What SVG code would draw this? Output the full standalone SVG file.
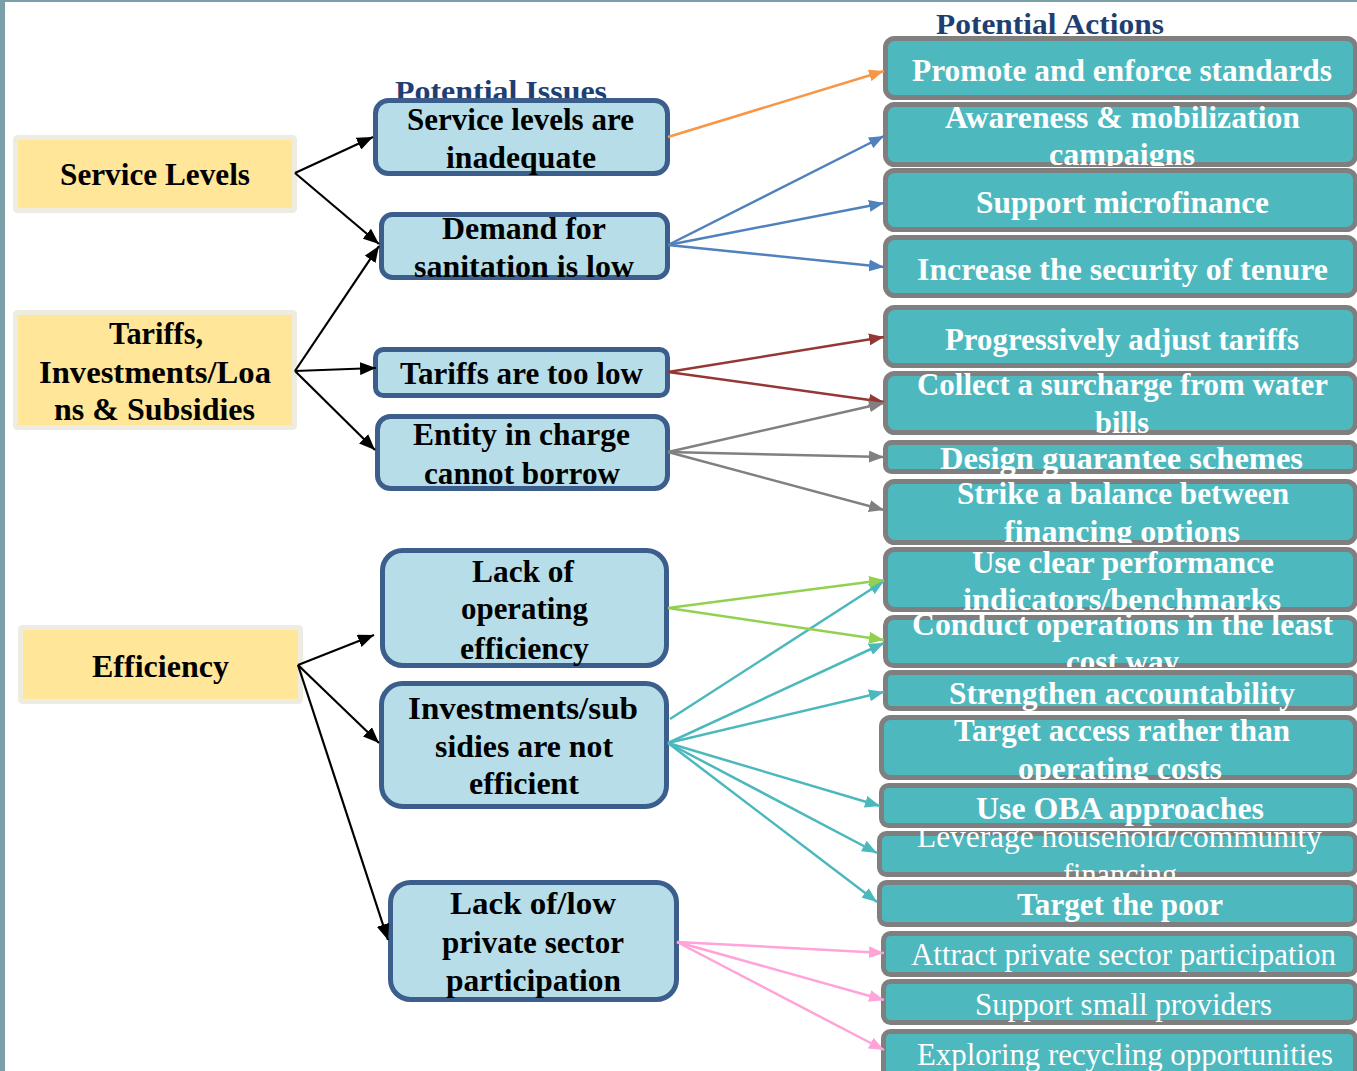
<svg xmlns="http://www.w3.org/2000/svg" width="1357" height="1071" viewBox="0 0 1357 1071">
<style>
.t{font-family:"Liberation Serif","DejaVu Serif",serif;font-size:31px;font-weight:bold;text-anchor:middle;transform:translateY(1.5px)}
.k{fill:#000}
.w{fill:#fff}
.r{font-weight:normal}
.hd{font-family:"Liberation Serif","DejaVu Serif",serif;font-size:30px;font-weight:bold;fill:#1F3F73;text-anchor:middle}
.yb{fill:#FFE699;stroke:#EEECE1;stroke-width:5}
.bb{fill:#B7DEE8;stroke:#3B5E8C;stroke-width:5}
.ab{fill:#4DB8BE;stroke:#7F7F7F;stroke-width:5}
.c{fill:none;stroke-width:2.5}
</style>
<defs>
<marker id="mk" markerUnits="userSpaceOnUse" markerWidth="16" markerHeight="13" refX="16" refY="6.5" orient="auto"><path d="M0,0L16,6.5L0,13z" fill="#000"/></marker>
<marker id="mo" markerUnits="userSpaceOnUse" markerWidth="15" markerHeight="12" refX="15" refY="6" orient="auto"><path d="M0,0L15,6L0,12z" fill="#F79646"/></marker>
<marker id="mb" markerUnits="userSpaceOnUse" markerWidth="15" markerHeight="12" refX="15" refY="6" orient="auto"><path d="M0,0L15,6L0,12z" fill="#4F81BD"/></marker>
<marker id="mr" markerUnits="userSpaceOnUse" markerWidth="15" markerHeight="12" refX="15" refY="6" orient="auto"><path d="M0,0L15,6L0,12z" fill="#953735"/></marker>
<marker id="mg" markerUnits="userSpaceOnUse" markerWidth="15" markerHeight="12" refX="15" refY="6" orient="auto"><path d="M0,0L15,6L0,12z" fill="#808080"/></marker>
<marker id="ml" markerUnits="userSpaceOnUse" markerWidth="15" markerHeight="12" refX="15" refY="6" orient="auto"><path d="M0,0L15,6L0,12z" fill="#92D050"/></marker>
<marker id="mt" markerUnits="userSpaceOnUse" markerWidth="15" markerHeight="12" refX="15" refY="6" orient="auto"><path d="M0,0L15,6L0,12z" fill="#4BB8BE"/></marker>
<marker id="mp" markerUnits="userSpaceOnUse" markerWidth="15" markerHeight="12" refX="15" refY="6" orient="auto"><path d="M0,0L15,6L0,12z" fill="#FFA3D8"/></marker>
<clipPath id="c1"><rect x="883" y="36" width="474" height="64"/></clipPath>
<clipPath id="c2"><rect x="883" y="102" width="474" height="64"/></clipPath>
<clipPath id="c3"><rect x="883" y="168" width="474" height="64"/></clipPath>
<clipPath id="c4"><rect x="883" y="235" width="474" height="63"/></clipPath>
<clipPath id="c5"><rect x="883" y="305" width="474" height="63"/></clipPath>
<clipPath id="c6"><rect x="883" y="371" width="474" height="64"/></clipPath>
<clipPath id="c7"><rect x="883" y="440" width="474" height="34"/></clipPath>
<clipPath id="c8"><rect x="883" y="479" width="474" height="64"/></clipPath>
<clipPath id="c9"><rect x="883" y="547" width="474" height="65"/></clipPath>
<clipPath id="c10"><rect x="883" y="615" width="474" height="52"/></clipPath>
<clipPath id="c11"><rect x="883" y="670" width="474" height="41"/></clipPath>
<clipPath id="c12"><rect x="879" y="715" width="478" height="65"/></clipPath>
<clipPath id="c13"><rect x="879" y="783" width="478" height="45"/></clipPath>
<clipPath id="c14"><rect x="877" y="831" width="480" height="46"/></clipPath>
<clipPath id="c15"><rect x="877" y="880" width="480" height="47"/></clipPath>
<clipPath id="c16"><rect x="881" y="931" width="476" height="46"/></clipPath>
<clipPath id="c17"><rect x="881" y="979" width="476" height="46"/></clipPath>
<clipPath id="c18"><rect x="881" y="1029" width="476" height="46"/></clipPath>
</defs>
<rect x="0" y="0" width="1357" height="1071" fill="#fff"/>
<rect x="0" y="0" width="1357" height="2" fill="#7B9FA9"/>
<rect x="0" y="0" width="5" height="1071" fill="#7B9FA9"/>

<g id="headers">
<text class="hd" x="501" y="101" textLength="212" lengthAdjust="spacingAndGlyphs">Potential Issues</text>
<text class="hd" x="1050" y="34" textLength="228" lengthAdjust="spacingAndGlyphs">Potential Actions</text>
</g>

<g id="cat-service">
<rect class="yb" x="15.5" y="137.5" width="279" height="73" rx="2"/>
<text class="t k" x="155" y="183" textLength="190" lengthAdjust="spacingAndGlyphs">Service Levels</text>
</g>
<g id="cat-tariffs">
<rect class="yb" x="15.5" y="312.5" width="279" height="115" rx="2"/>
<text class="t k" x="156" y="342" textLength="94" lengthAdjust="spacingAndGlyphs">Tariffs,</text>
<text class="t k" x="155" y="381" textLength="232" lengthAdjust="spacingAndGlyphs">Investments/Loa</text>
<text class="t k" x="154.5" y="418" textLength="201" lengthAdjust="spacingAndGlyphs">ns &amp; Subsidies</text>
</g>
<g id="cat-efficiency">
<rect class="yb" x="20.5" y="627.5" width="280" height="74" rx="2"/>
<text class="t k" x="160.5" y="675" textLength="137" lengthAdjust="spacingAndGlyphs">Efficiency</text>
</g>

<g id="issue-service">
<rect class="bb" x="375.5" y="100.5" width="292" height="73" rx="13"/>
<text class="t k" x="520.5" y="128" textLength="227" lengthAdjust="spacingAndGlyphs">Service levels are</text>
<text class="t k" x="521" y="166" textLength="150" lengthAdjust="spacingAndGlyphs">inadequate</text>
</g>
<g id="issue-demand">
<rect class="bb" x="381.5" y="214.5" width="286" height="63" rx="11"/>
<text class="t k" x="524" y="237" textLength="164" lengthAdjust="spacingAndGlyphs">Demand for</text>
<text class="t k" x="524" y="275" textLength="220" lengthAdjust="spacingAndGlyphs">sanitation is low</text>
</g>
<g id="issue-tariffs">
<rect class="bb" x="375.5" y="349.5" width="292" height="46" rx="8"/>
<text class="t k" x="521.5" y="382" textLength="243" lengthAdjust="spacingAndGlyphs">Tariffs are too low</text>
</g>
<g id="issue-entity">
<rect class="bb" x="377.5" y="416.5" width="290" height="72" rx="13"/>
<text class="t k" x="521.5" y="443" textLength="217" lengthAdjust="spacingAndGlyphs">Entity in charge</text>
<text class="t k" x="522" y="482" textLength="196" lengthAdjust="spacingAndGlyphs">cannot borrow</text>
</g>
<g id="issue-operating">
<rect class="bb" x="382.5" y="550.5" width="284" height="115" rx="20"/>
<text class="t k" x="523" y="580" textLength="102" lengthAdjust="spacingAndGlyphs">Lack of</text>
<text class="t k" x="524.5" y="617" textLength="127" lengthAdjust="spacingAndGlyphs">operating</text>
<text class="t k" x="524.5" y="657" textLength="129" lengthAdjust="spacingAndGlyphs">efficiency</text>
</g>
<g id="issue-investments">
<rect class="bb" x="381.5" y="683.5" width="285" height="123" rx="21"/>
<text class="t k" x="523" y="717" textLength="230" lengthAdjust="spacingAndGlyphs">Investments/sub</text>
<text class="t k" x="524" y="755" textLength="178" lengthAdjust="spacingAndGlyphs">sidies are not</text>
<text class="t k" x="524" y="792" textLength="110" lengthAdjust="spacingAndGlyphs">efficient</text>
</g>
<g id="issue-private">
<rect class="bb" x="390.5" y="882.5" width="286" height="117" rx="20"/>
<text class="t k" x="533" y="912" textLength="166" lengthAdjust="spacingAndGlyphs">Lack of/low</text>
<text class="t k" x="533" y="951" textLength="182" lengthAdjust="spacingAndGlyphs">private sector</text>
<text class="t k" x="533.5" y="989" textLength="175" lengthAdjust="spacingAndGlyphs">participation</text>
</g>

<g id="action-1"><rect class="ab" x="885.5" y="38.5" width="470" height="59" rx="9"/>
<g clip-path="url(#c1)"><text class="t w" x="1122" y="79" textLength="420" lengthAdjust="spacingAndGlyphs">Promote and enforce standards</text></g></g>
<g id="action-2"><rect class="ab" x="885.5" y="104.5" width="470" height="60" rx="9"/>
<g clip-path="url(#c2)"><text class="t w" x="1122.5" y="126" textLength="355" lengthAdjust="spacingAndGlyphs">Awareness &amp; mobilization</text>
<text class="t w" x="1122" y="163" textLength="146" lengthAdjust="spacingAndGlyphs">campaigns</text></g></g>
<g id="action-3"><rect class="ab" x="885.5" y="170.5" width="470" height="59" rx="9"/>
<g clip-path="url(#c3)"><text class="t w" x="1122.5" y="211" textLength="293" lengthAdjust="spacingAndGlyphs">Support microfinance</text></g></g>
<g id="action-4"><rect class="ab" x="885.5" y="237.5" width="470" height="58" rx="9"/>
<g clip-path="url(#c4)"><text class="t w" x="1122.5" y="278" textLength="411" lengthAdjust="spacingAndGlyphs">Increase the security of tenure</text></g></g>
<g id="action-5"><rect class="ab" x="885.5" y="307.5" width="470" height="58" rx="9"/>
<g clip-path="url(#c5)"><text class="t w" x="1122" y="348" textLength="354" lengthAdjust="spacingAndGlyphs">Progressively adjust tariffs</text></g></g>
<g id="action-6"><rect class="ab" x="885.5" y="373.5" width="470" height="59" rx="9"/>
<g clip-path="url(#c6)"><text class="t w" x="1122.5" y="393" textLength="411" lengthAdjust="spacingAndGlyphs">Collect a surcharge from water</text>
<text class="t w" x="1122" y="431" textLength="54" lengthAdjust="spacingAndGlyphs">bills</text></g></g>
<g id="action-7"><rect class="ab" x="885.5" y="442.5" width="470" height="29" rx="6"/>
<g clip-path="url(#c7)"><text class="t w" x="1121.5" y="467" textLength="363" lengthAdjust="spacingAndGlyphs">Design guarantee schemes</text></g></g>
<g id="action-8"><rect class="ab" x="885.5" y="481.5" width="470" height="61" rx="9"/>
<g clip-path="url(#c8)"><text class="t w" x="1123" y="502" textLength="332" lengthAdjust="spacingAndGlyphs">Strike a balance between</text>
<text class="t w" x="1122" y="540" textLength="236" lengthAdjust="spacingAndGlyphs">financing options</text></g></g>
<g id="action-9"><rect class="ab" x="885.5" y="549.5" width="470" height="60" rx="9"/>
<g clip-path="url(#c9)"><text class="t w" x="1123" y="571" textLength="302" lengthAdjust="spacingAndGlyphs">Use clear performance</text>
<text class="t w" x="1122" y="608" textLength="318" lengthAdjust="spacingAndGlyphs">indicators/benchmarks</text></g></g>
<g id="action-10"><rect class="ab" x="885.5" y="617.5" width="470" height="48" rx="8"/>
<g clip-path="url(#c10)"><text class="t w" x="1122.5" y="633" textLength="421" lengthAdjust="spacingAndGlyphs">Conduct operations in the least</text>
<text class="t w" x="1122.5" y="670" textLength="113" lengthAdjust="spacingAndGlyphs">cost way</text></g></g>
<g id="action-11"><rect class="ab" x="885.5" y="672.5" width="470" height="36" rx="6"/>
<g clip-path="url(#c11)"><text class="t w" x="1122" y="702" textLength="346" lengthAdjust="spacingAndGlyphs">Strengthen accountability</text></g></g>
<g id="action-12"><rect class="ab" x="881.5" y="717.5" width="474" height="60" rx="9"/>
<g clip-path="url(#c12)"><text class="t w" x="1122" y="739" textLength="336" lengthAdjust="spacingAndGlyphs">Target access rather than</text>
<text class="t w" x="1120" y="777" textLength="204" lengthAdjust="spacingAndGlyphs">operating costs</text></g></g>
<g id="action-13"><rect class="ab" x="881.5" y="785.5" width="474" height="40" rx="7"/>
<g clip-path="url(#c13)"><text class="t w" x="1120" y="817" textLength="288" lengthAdjust="spacingAndGlyphs">Use OBA approaches</text></g></g>
<g id="action-14"><rect class="ab" x="879.5" y="833.5" width="476" height="41" rx="7"/>
<g clip-path="url(#c14)"><text class="t w r" x="1119.5" y="845" textLength="405" lengthAdjust="spacingAndGlyphs">Leverage household/community</text>
<text class="t w r" x="1120" y="883" textLength="114" lengthAdjust="spacingAndGlyphs">financing</text></g></g>
<g id="action-15"><rect class="ab" x="879.5" y="882.5" width="476" height="42" rx="7"/>
<g clip-path="url(#c15)"><text class="t w" x="1120" y="913" textLength="206" lengthAdjust="spacingAndGlyphs">Target the poor</text></g></g>
<g id="action-16"><rect class="ab" x="883.5" y="933.5" width="472" height="41" rx="7"/>
<g clip-path="url(#c16)"><text class="t w r" x="1123.5" y="963" textLength="425" lengthAdjust="spacingAndGlyphs">Attract private sector participation</text></g></g>
<g id="action-17"><rect class="ab" x="883.5" y="981.5" width="472" height="41" rx="7"/>
<g clip-path="url(#c17)"><text class="t w r" x="1123.5" y="1013" textLength="297" lengthAdjust="spacingAndGlyphs">Support small providers</text></g></g>
<g id="action-18"><rect class="ab" x="883.5" y="1031.5" width="472" height="45" rx="7"/>
<g clip-path="url(#c18)"><text class="t w r" x="1125" y="1063" textLength="416" lengthAdjust="spacingAndGlyphs">Exploring recycling opportunities</text></g></g>

<g id="connectors">
<g stroke="#000" stroke-width="2.2" fill="none" marker-end="url(#mk)">
<line x1="295" y1="173" x2="373" y2="137"/>
<line x1="295" y1="173" x2="379" y2="244"/>
<line x1="295" y1="371" x2="379" y2="246"/>
<line x1="295" y1="371" x2="376" y2="368"/>
<line x1="295" y1="371" x2="375" y2="450"/>
<line x1="298" y1="665" x2="374" y2="635"/>
<line x1="298" y1="665" x2="379" y2="743"/>
<line x1="298" y1="665" x2="388" y2="940"/>
</g>
<line class="c" stroke="#F79646" marker-end="url(#mo)" x1="668" y1="137" x2="884" y2="71"/>
<g class="c" stroke="#4F81BD" marker-end="url(#mb)">
<line x1="668" y1="245" x2="884" y2="136"/>
<line x1="668" y1="245" x2="884" y2="203"/>
<line x1="668" y1="245" x2="884" y2="267"/>
</g>
<g class="c" stroke="#953735" marker-end="url(#mr)">
<line x1="668" y1="372" x2="884" y2="337"/>
<line x1="668" y1="372" x2="884" y2="402"/>
</g>
<g class="c" stroke="#808080" marker-end="url(#mg)">
<line x1="668" y1="452" x2="884" y2="403"/>
<line x1="668" y1="452" x2="884" y2="457"/>
<line x1="668" y1="452" x2="884" y2="510"/>
</g>
<g class="c" stroke="#4BB8BE" marker-end="url(#mt)">
<line x1="670" y1="719" x2="884" y2="581"/>
<line x1="668" y1="743" x2="884" y2="643"/>
<line x1="668" y1="743" x2="884" y2="692"/>
<line x1="668" y1="743" x2="880" y2="806"/>
<line x1="668" y1="743" x2="877" y2="853"/>
<line x1="668" y1="743" x2="877" y2="902"/>
</g>
<g class="c" stroke="#92D050" marker-end="url(#ml)">
<line x1="668" y1="608" x2="884" y2="580"/>
<line x1="668" y1="608" x2="884" y2="640"/>
</g>
<g class="c" stroke="#FFA3D8" marker-end="url(#mp)">
<line x1="677" y1="942" x2="884" y2="953"/>
<line x1="677" y1="942" x2="884" y2="1000"/>
<line x1="677" y1="942" x2="884" y2="1050"/>
</g>
</g>
</svg>
